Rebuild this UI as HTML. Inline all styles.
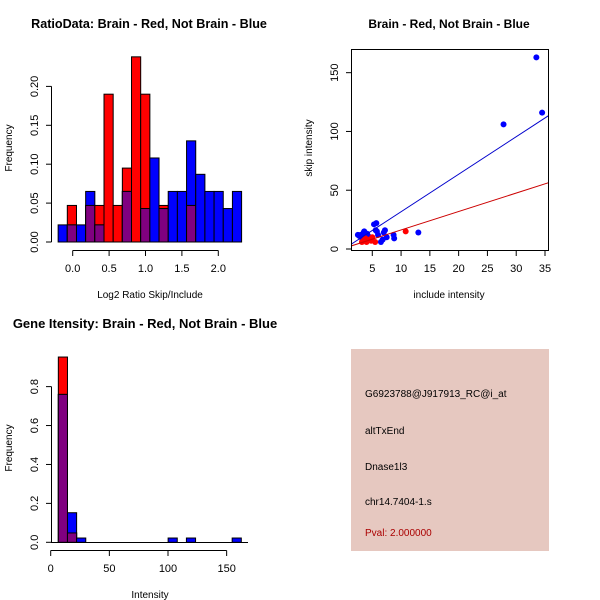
<!DOCTYPE html>
<html><head><meta charset="utf-8"><style>
body{margin:0;background:#fff}
svg{display:block;font-family:"Liberation Sans",sans-serif}
</style></head><body>
<svg id="s" width="600" height="600" xmlns="http://www.w3.org/2000/svg"></svg>
<script>
// Histogram 1: log2 ratio
const h1Start = -0.2, h1Width = 0.126;
const h1Red  = [0,0.047,0,0.047,0.047,0.19,0.047,0.095,0.238,0.19,0,0.047,0,0,0.047,0,0,0,0,0];
const h1Blue = [0.022,0.022,0.022,0.065,0.022,0,0,0.065,0,0.043,0.108,0.043,0.065,0.065,0.13,0.087,0.065,0.065,0.043,0.065];
const h1XTicks = [0,0.5,1,1.5,2];
const h1XLabels = ["0.0","0.5","1.0","1.5","2.0"];
const h1YTicks = [0,0.05,0.1,0.15,0.2];
const h1YLabels = ["0.00","0.05","0.10","0.15","0.20"];
// Scatter
const blueX = [33.5,34.5,27.8,13,8.8,8.7,7.2,7,6.8,6.5,5.7,5.3,5.6,5.8,3,3.2,3.5,3.8,4,4.3,2.8,3.3,4.5,6,7.5,2.5,3.6,4.1];
const blueY = [163,116,106,14,9,12,16,14,8,6,22,21,16,15,12,10,14,12,10,11,11,8,9,12,10,12,15,13];
const redX = [10.8,5.5,4,3.5,4.5,5,3.8,4.2,3.2,4.8];
const redY = [15,6,6,7,8,10,9,7,6,7];
const blueFit = [-0.2,3.19];
const redFit = [0.5,1.57];
const scXTicks = [5,10,15,20,25,30,35];
const scYTicks = [0,50,100,150];
// Histogram 3: intensity
const h3Start = 6.5, h3Width = 7.8;
const h3Red  = [0.952,0.048];
const h3Blue = [0.76,0.152,0.022,0,0,0,0,0,0,0,0,0,0.022,0,0.022,0,0,0,0,0.022];
const h3XTicks = [0,50,100,150];
const h3YTicks = [0,0.2,0.4,0.6,0.8];
const h3YLabels = ["0.0","0.2","0.4","0.6","0.8"];

const S = document.getElementById('s');
const NS = 'http://www.w3.org/2000/svg';
function mk(tag, attrs, parent, txt){
  const e = document.createElementNS(NS, tag);
  for (const k in attrs) e.setAttribute(k, attrs[k]);
  if (txt !== undefined) e.textContent = txt;
  (parent || S).appendChild(e);
  return e;
}
function grp(name){
  const g = mk('g', {});
  
  
  return g;
}
function text(g, x, y, s, name, opts){
  opts = opts || {};
  const t = mk('text', {x:x, y:y, 'font-size': opts.size || 11, 'text-anchor': opts.anchor || 'middle', fill: opts.fill || '#000', 'font-weight': opts.bold ? 'bold' : 'normal'}, g, s);
  if (opts.rot) t.setAttribute('transform', 'rotate(-90 ' + x + ' ' + y + ')');
  
  
  return t;
}
function line(g, x1, y1, x2, y2, color, name){
  const l = mk('line', {x1:x1, y1:y1, x2:x2, y2:y2, stroke: color || '#000', 'stroke-width': 1}, g);
  
  
  return l;
}
function histo(g, start, width, red, blue, xs, ys, name){
  const n = Math.max(red.length, blue.length);
  for (let i = 0; i < n; i++){
    const r = red[i] || 0, b = blue[i] || 0;
    const x0 = xs(start + i*width), x1 = xs(start + (i+1)*width);
    const draw = (v, c, nm) => {
      if (v <= 0) return;
      const rc = mk('rect', {x:x0, y:ys(v), width:x1-x0, height:ys(0)-ys(v), fill:c, stroke:'#000', 'stroke-width':1}, g);
      
      
    };
    draw(r, '#ff0000', name + '-red-bar');
    draw(b, '#0000ff', name + '-blue-bar');
    draw(Math.min(r, b), '#800080', name + '-overlap-bar');
  }
}

// Panel 1
(function(){
  const g = grp('ratio-histogram');
  const xs = v => 72.7 + v*72.8;
  const ys = v => 242 - v*778;
  text(g, 149, 28, 'RatioData: Brain - Red, Not Brain - Blue', 'chart-title', {size:12.6, bold:true});
  histo(g, h1Start, h1Width, h1Red, h1Blue, xs, ys, 'ratio');
  line(g, xs(0), 250.5, xs(2), 250.5, '#000', 'x-axis');
  h1XTicks.forEach((v,i)=>{ line(g, xs(v), 250.5, xs(v), 256, '#000', 'x-tick'); text(g, xs(v), 272, h1XLabels[i], 'x-tick-label'); });
  line(g, 51.5, ys(0), 51.5, ys(0.2), '#000', 'y-axis');
  h1YTicks.forEach((v,i)=>{ line(g, 46, ys(v), 51.5, ys(v), '#000', 'y-tick'); text(g, 38, ys(v), h1YLabels[i], 'y-tick-label', {rot:true}); });
  text(g, 150, 298, 'Log2 Ratio Skip/Include', 'x-axis-title', {size:10});
  text(g, 12, 148, 'Frequency', 'y-axis-title', {size:10, rot:true});
})();

// Panel 2
(function(){
  const g = grp('intensity-scatter');
  const xs = v => 343.5 + v*5.757;
  const ys = v => 249 - v*1.1755;
  text(g, 449, 28, 'Brain - Red, Not Brain - Blue', 'chart-title', {size:12, bold:true});
  const fr = mk('rect', {x:351.5, y:49.5, width:197, height:201, fill:'none', stroke:'#000'}, g);
  
  
  const clip = mk('clipPath', {id:'c2'}, g);
  mk('rect', {x:352, y:50, width:196, height:200}, clip);
  const cg = mk('g', {'clip-path':'url(#c2)'}, g);
  
  
  blueX.forEach((x,i)=>{ const c = mk('circle', {cx:xs(x), cy:ys(blueY[i]), r:3, fill:'#0000ff'}, cg);
    
     });
  redX.forEach((x,i)=>{ const c = mk('circle', {cx:xs(x), cy:ys(redY[i]), r:3, fill:'#ff0000'}, cg);
    
     });
  line(cg, xs(0), ys(blueFit[0]), xs(40), ys(blueFit[0]+40*blueFit[1]), '#0000cc', 'blue-fit-line');
  line(cg, xs(0), ys(redFit[0]), xs(40), ys(redFit[0]+40*redFit[1]), '#cc0000', 'red-fit-line');
  scXTicks.forEach(v=>{ line(g, xs(v), 250.5, xs(v), 256, '#000', 'x-tick'); text(g, xs(v), 272, String(v), 'x-tick-label'); });
  scYTicks.forEach(v=>{ line(g, 346, ys(v), 351.5, ys(v), '#000', 'y-tick'); text(g, 338, ys(v), String(v), 'y-tick-label', {rot:true}); });
  text(g, 449, 298, 'include intensity', 'x-axis-title', {size:10});
  text(g, 312, 148, 'skip intensity', 'y-axis-title', {size:10, rot:true});
})();

// Panel 3
(function(){
  const g = grp('gene-intensity-histogram');
  const xs = v => 50.7 + v*1.173;
  const ys = v => 542.3 - v*194.6;
  text(g, 145, 328, 'Gene Itensity: Brain - Red, Not Brain - Blue', 'chart-title', {size:13, bold:true});
  histo(g, h3Start, h3Width, h3Red, h3Blue, xs, ys, 'intensity');
  line(g, 51, 542.5, 248, 542.5, '#000', 'baseline');
  line(g, xs(0), 550.5, xs(150), 550.5, '#000', 'x-axis');
  h3XTicks.forEach(v=>{ line(g, xs(v), 550.5, xs(v), 556, '#000', 'x-tick'); text(g, xs(v), 572, String(v), 'x-tick-label'); });
  line(g, 51.5, ys(0), 51.5, ys(0.8), '#000', 'y-axis');
  h3YTicks.forEach((v,i)=>{ line(g, 46, ys(v), 51.5, ys(v), '#000', 'y-tick'); text(g, 38, ys(v), h3YLabels[i], 'y-tick-label', {rot:true}); });
  text(g, 150, 598, 'Intensity', 'x-axis-title', {size:10});
  text(g, 12, 448, 'Frequency', 'y-axis-title', {size:10, rot:true});
})();

// Panel 4
(function(){
  const g = grp('info-panel');
  const r = mk('rect', {x:351, y:349, width:198, height:202, fill:'#e6c8c0'}, g);
  
  
  text(g, 365, 397, 'G6923788@J917913_RC@i_at', 'probe-id', {size:10, anchor:'start'});
  text(g, 365, 434, 'altTxEnd', 'event-type', {size:10, anchor:'start'});
  text(g, 365, 470, 'Dnase1l3', 'gene-name', {size:10, anchor:'start'});
  text(g, 365, 505, 'chr14.7404-1.s', 'locus', {size:10, anchor:'start'});
  text(g, 365, 536, 'Pval: 2.000000', 'p-value', {size:10, anchor:'start', fill:'#aa0000'});
})();
</script>
</body></html>
